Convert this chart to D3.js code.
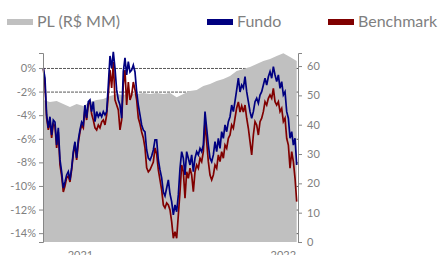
<!DOCTYPE html>
<html>
<head>
<meta charset="utf-8">
<script src="https://cdn.jsdelivr.net/npm/d3@7"></script>
<style>
  body { margin: 0; background: #fff; }
  svg { display: block; font-family: Lato, "Open Sans", sans-serif; }
</style>
</head>
<body>
<div id="chart"></div>
<script>
// series sampled every 3 days starting 2020-10-27 (% return)
const startDate = new Date(2020, 9, 27);
const stepDays = 3;

const fundo = [
  0, -0.85, -3.98, -5.08, -4.13, -5.68, -4.41, -4.58, -6.53, -5.08,
  -7.77, -8.81, -10.17, -9.66, -9.07, -8.79, -9.49, -8.47, -7.09, -6.25,
  -7.63, -6.10, -5.25, -4.58, -4.83, -3.14, -4.24, -2.86, -2.71, -3.70,
  -2.86, -4.55, -3.70, -4.13, -3.84, -4.13, -3.70, -3.98, -3.70, -1.44,
  1.02, 0, 1.36, -0.03, -1.86, -2.71, -3.14, -4.26, -0.31, 0.85,
  -0.59, 0.53, -0.34, -0.17, 0.25, -0.34, -2.03, -3.14, -3.98, -4.83,
  -5.25, -5.42, -6.95, -7.63, -7.80, -7.46, -6.95, -6.10, -6.10, -7.80,
  -8.64, -9.32, -10.51, -10.85, -10.17, -9.49, -10.68, -11.33, -12.46, -11.61,
  -12.18, -10.76, -8.50, -7.09, -7.65, -9.07, -7.09, -7.65, -8.22, -7.37,
  -8.79, -7.65, -7.09, -7.37, -6.81, -7.09, -6.53, -3.70, -5.11, -6.53,
  -7.65, -7.94, -7.37, -6.25, -7.09, -5.96, -6.81, -5.40, -5.96, -4.83,
  -5.40, -4.55, -4.13, -3.14, -3.70, -2.80, -1.86, -0.85, -2.03, -1.44,
  -1.69, -0.74, -2.01, -2.86, -3.70, -4.26, -3.70, -2.86, -2.57, -2.99,
  -2.29, -2.01, -1.44, -0.87, -1.44, -0.74, -0.31, -0.87, 0.11, -0.59,
  -1.16, -0.59, -1.72, -1.16, -2.29, -2.01, -3.70, -4.26, -5.96, -5.40,
  -6.53, -5.96, -8.22
];

const benchmark = [
  0, -1.44, -4.24, -5.25, -4.41, -5.93, -4.75, -4.92, -6.78, -5.42,
  -8.22, -9.15, -10.51, -10.00, -9.32, -9.15, -9.66, -8.64, -7.29, -6.44,
  -7.80, -6.36, -5.42, -4.83, -5.08, -3.39, -4.41, -3.05, -2.88, -3.90,
  -4.41, -5.08, -5.25, -4.83, -5.08, -4.58, -4.41, -4.83, -3.98, -2.29,
  -0.17, -1.69, 0.51, -2.71, -3.14, -3.56, -5.25, -4.41, -1.44, -0.17,
  -3.14, -1.19, -2.71, -2.29, -1.19, -1.86, -2.71, -4.24, -4.75, -5.42,
  -5.93, -6.78, -8.47, -8.81, -8.64, -8.31, -7.97, -6.78, -7.29, -8.64,
  -9.49, -10.34, -11.61, -11.86, -11.44, -11.61, -12.03, -13.03, -14.43, -13.87,
  -14.43, -12.46, -10.48, -8.22, -8.79, -11.04, -8.79, -9.35, -8.50, -9.07,
  -10.48, -8.79, -8.22, -8.50, -7.65, -7.94, -7.09, -4.55, -6.25, -7.94,
  -9.07, -9.49, -9.07, -8.22, -8.50, -7.37, -7.94, -7.09, -7.65, -6.53,
  -6.81, -5.96, -5.68, -4.83, -5.11, -4.24, -3.39, -2.88, -3.73, -3.22,
  -3.73, -3.14, -4.26, -5.11, -6.25, -7.37, -5.68, -4.55, -4.83, -5.68,
  -4.55, -4.26, -3.70, -2.86, -3.14, -2.57, -2.29, -2.57, -1.72, -2.86,
  -3.14, -2.86, -3.70, -3.42, -4.55, -4.26, -5.96, -6.53, -8.50, -7.09,
  -7.94, -9.35, -11.33
];

// PL (R$ MM), sampled every 12 days from the same start
const plStepDays = 12;
const pl = [
  48.4, 47.7, 48.1, 47.1, 46.0, 47.1, 46.4, 47.7, 48.4, 48.8,
  49.8, 50.5, 50.1, 50.8, 50.5, 50.8, 50.5, 50.8, 50.5, 50.8,
  49.4, 50.5, 51.5, 51.8, 53.2, 53.9, 54.9, 55.6, 56.6, 58.3,
  59.0, 59.7, 60.7, 61.7, 62.4, 63.4, 64.4, 63.1, 61.7
];

const leftTicks = [0, -2, -4, -6, -8, -10, -12, -14];
const rightTicks = [0, 10, 20, 30, 40, 50, 60];
const legendItems = [
  { label: 'PL (R$ MM)', color: '#c0c0c0', x: 7 },
  { label: 'Fundo', color: '#000080', x: 207 },
  { label: 'Benchmark', color: '#800000', x: 328 }
];

const W = 444, H = 255;
const plot = { left: 43, right: 298, top: 53, bottom: 242 };

const svg = d3.select('#chart').append('svg')
  .attr('width', W).attr('height', H);

const endDate = d3.timeDay.offset(startDate, (fundo.length - 1) * stepDays);
const x = d3.scaleTime()
  .domain([startDate, endDate])
  .range([43.3, 296.7]);

const yL = d3.scaleLinear().domain([-14.75, 1.27]).range([plot.bottom, plot.top]);
const yR = d3.scaleLinear().domain([0, 64.45]).range([plot.bottom, plot.top]);

const lineDate = (d, i) => d3.timeDay.offset(startDate, i * stepDays);
const plDate = (d, i) => d3.timeDay.offset(startDate, i * plStepDays);

// dashed gridlines (behind the area)
svg.append('g').selectAll('line')
  .data(leftTicks)
  .enter().append('line')
  .attr('x1', plot.left).attr('x2', plot.right)
  .attr('y1', d => yL(d) + 0.5).attr('y2', d => yL(d) + 0.5)
  .attr('stroke', '#595959')
  .attr('stroke-width', 1)
  .attr('stroke-dasharray', '3,1');

const area = d3.area()
  .x((d, i) => x(plDate(d, i)))
  .y0(yR(0))
  .y1(d => yR(d));

svg.append('path')
  .datum(pl)
  .attr('fill', '#c0c0c0')
  .attr('d', area);

const line = d3.line()
  .x((d, i) => x(lineDate(d, i)))
  .y(d => yL(d));

svg.append('path')
  .datum(benchmark)
  .attr('fill', 'none')
  .attr('stroke', '#800000')
  .attr('stroke-width', 1.7)
  .attr('d', line);

svg.append('path')
  .datum(fundo)
  .attr('fill', 'none')
  .attr('stroke', '#000080')
  .attr('stroke-width', 1.7)
  .attr('d', line);

// axes
const axisColor = '#868686';
const textColor = '#808080';

const leftAxis = svg.append('g')
  .attr('transform', `translate(${plot.left},0)`)
  .call(d3.axisLeft(yL).tickValues(leftTicks).tickSize(4).tickPadding(3)
    .tickFormat(d => d + '%'));

const rightAxis = svg.append('g')
  .attr('transform', `translate(${plot.right},0)`)
  .call(d3.axisRight(yR).tickValues(rightTicks).tickSize(4).tickPadding(5));

[leftAxis, rightAxis].forEach(g => {
  g.select('.domain').attr('stroke', axisColor);
  g.selectAll('.tick line').attr('stroke', axisColor);
  g.selectAll('.tick text')
    .attr('fill', textColor)
    .style('font-size', '11px')
    .style('font-family', 'Lato, "Open Sans", sans-serif');
});

const bottomAxis = svg.append('g')
  .attr('transform', `translate(0,${plot.bottom})`)
  .call(d3.axisBottom(x).ticks(d3.timeYear.every(1)).tickSize(0).tickPadding(9)
    .tickFormat(d3.timeFormat('%Y')));
bottomAxis.select('.domain').remove();
bottomAxis.selectAll('.tick text')
  .attr('fill', textColor)
  .style('font-size', '11px')
  .style('font-family', 'Lato, "Open Sans", sans-serif');

// legend
const legend = svg.append('g');
const item = legend.selectAll('g')
  .data(legendItems)
  .enter().append('g')
  .attr('transform', d => `translate(${d.x},0)`);

item.append('rect')
  .attr('x', 0).attr('y', 19)
  .attr('width', 26).attr('height', 6)
  .attr('fill', d => d.color);

item.append('text')
  .attr('x', 30).attr('y', 27)
  .attr('fill', '#7f7f7f')
  .style('font-size', '16px')
  .text(d => d.label);
</script>
</body>
</html>
